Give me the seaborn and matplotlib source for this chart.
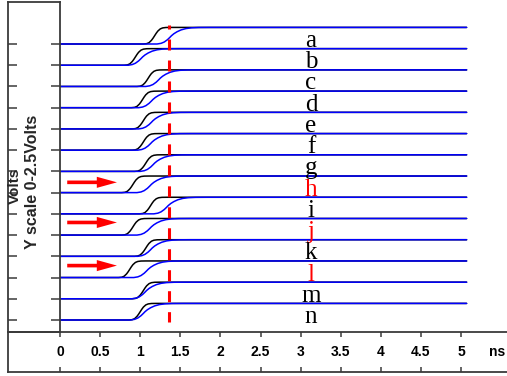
import numpy as np
import pandas as pd
import matplotlib
matplotlib.use("Agg")
import matplotlib.pyplot as plt
import seaborn as sns

# ---------------- data ----------------
labels = list("abcdefghijklmn")
label_colors = ["black", "black", "black", "black", "black", "black", "black",
                "red", "black", "red", "black", "red", "black", "black"]
# time (ns) of the 50% point of each trace's black and blue edge
black_mid = [1.18, 0.94, 1.10, 1.03, 1.04, 1.04, 1.07, 0.91, 1.13, 0.91, 1.07, 0.87, 1.04, 1.00]
blue_mid = [1.39, 1.03, 1.25, 1.16, 1.16, 1.15, 1.18, 1.14, 1.35, 1.14, 1.15, 1.10, 1.08, 1.06]
# edge shape: time offset from 50% point (ns) -> fraction of swing
black_off = [-0.14, -0.10, -0.07, -0.04, -0.02, 0.0, 0.02, 0.04, 0.07, 0.10, 0.14, 0.20]
black_frac = [0.0, 0.02, 0.08, 0.22, 0.35, 0.5, 0.65, 0.78, 0.91, 0.97, 0.995, 1.0]
blue_off = [-0.18, -0.13, -0.09, -0.05, -0.02, 0.0, 0.03, 0.07, 0.12, 0.18, 0.25, 0.34, 0.48]
blue_frac = [0.0, 0.04, 0.12, 0.26, 0.40, 0.5, 0.62, 0.74, 0.85, 0.93, 0.975, 0.995, 1.0]
swing = 2.5          # volts per trace
spacing = 3.2        # vertical offset between traces (V)
t_start, t_end = 0.0, 5.07
marker_time = 1.36
x_ticks = [0, 0.5, 1, 1.5, 2, 2.5, 3, 3.5, 4, 4.5, 5]
x_tick_labels = ["0", "0.5", "1", "1.5", "2", "2.5", "3", "3.5", "4", "4.5", "5"]
arrow_rows = ["h", "j", "l"]
arrow_level = [1.55, 1.9, 1.8]
arrow_from, arrow_to = 0.09, 0.71
label_time = 3.13

# ---------------- build long table ----------------
n = len(labels)
baselines = [(n - 1 - i) * spacing for i in range(n)]
rows = []
for i, lab in enumerate(labels):
    b = baselines[i]
    for kind, mids, offs, fracs in (("black", black_mid, black_off, black_frac),
                                    ("blue", blue_mid, blue_off, blue_frac)):
        rows.append((lab, kind, 0, t_start, b))
        for k, (o, f) in enumerate(zip(offs, fracs)):
            rows.append((lab, kind, k + 1, mids[i] + o, b + swing * f))
        rows.append((lab, kind, len(offs) + 1, t_end, b + swing))
df = pd.DataFrame(rows, columns=["trace", "kind", "order", "time", "volts"])

# ---------------- figure ----------------
sns.set_theme(style="white")
plt.rcParams["lines.scale_dashes"] = False
W, H = 507, 376
fig = plt.figure(figsize=(W / 100, H / 100), dpi=100)

def fr(x0, y0, x1, y1):
    return [x0 / W, 1 - y1 / H, (x1 - x0) / W, (y1 - y0) / H]

px_per_ns = 80.2
x_left_main = 60
xmax = (W - x_left_main) / px_per_ns
px_per_v = 21.23 / spacing
y_bot = baselines[-1] - (332 - 320) / px_per_v
y_top = baselines[0] + (44 - 2) / px_per_v

ax = fig.add_axes(fr(60, 2, W, 332))
ax.set_facecolor("none")
for kind, col in (("black", "black"), ("blue", "#0000ff")):
    sub = df[df["kind"] == kind]
    sns.lineplot(data=sub, x="time", y="volts", units="trace", estimator=None,
                 sort=False, color=col, lw=1.1, ax=ax, legend=False)
ax.set_xlim(0, xmax)
ax.set_ylim(y_bot, y_top)
for s in ax.spines.values():
    s.set_visible(False)
ax.set_xticks([]); ax.set_yticks([])
ax.set_xlabel(""); ax.set_ylabel("")

# red dashed marker
ax.plot([marker_time, marker_time], [baselines[0] + swing + 0.4, baselines[-1] - 0.3],
        color="#ff0000", lw=2.2, ls=(5.0, (7.9, 7.2)), solid_capstyle="butt")

# letters
for i, lab in enumerate(labels):
    ax.text(label_time, baselines[i] - 0.45, lab, ha="center", va="baseline",
            fontsize=18, family="Liberation Serif", color=label_colors[i])

# arrows
for r, lv in zip(arrow_rows, arrow_level):
    y = baselines[labels.index(r)] + lv
    ax.annotate("", xy=(arrow_to, y), xytext=(arrow_from, y),
                arrowprops=dict(arrowstyle="simple,head_length=1.45,head_width=0.8,tail_width=0.26",
                                mutation_scale=10, color="#ff0000", lw=0,
                                shrinkA=0, shrinkB=0))

spine_col = "#3a3a3a"
# left box
axb = fig.add_axes(fr(8, 2, 60, 332))
axb.set_facecolor("none")
axb.set_ylim(y_bot, y_top)
axb.set_xticks([])
axb.set_yticks(baselines)
axb.tick_params(axis="y", left=True, right=True, direction="in", length=6.5,
                width=1.1, color=spine_col, labelleft=False, labelright=False)
for s in axb.spines.values():
    s.set_visible(True); s.set_color(spine_col); s.set_linewidth(1.3)

# bottom axis box
axx = fig.add_axes(fr(8, 332, W + 2, 372))
axx.set_facecolor("none")
axx.set_xlim(-(60 - 8) / px_per_ns, (W + 2 - 60) / px_per_ns)
axx.set_ylim(0, 1)
axx.set_yticks([])
axx.set_xticks(x_ticks)
axx.tick_params(axis="x", top=True, bottom=True, direction="in", length=3.8,
                width=1.1, color=spine_col, labelbottom=False, labeltop=False)
for s in axx.spines.values():
    s.set_visible(True); s.set_color(spine_col); s.set_linewidth(1.3)
axx.spines["right"].set_visible(False)
for t, tl in zip(x_ticks, x_tick_labels):
    axx.text(t, 0.5, tl, ha="center", va="center", fontsize=10, fontweight="bold",
             family="Liberation Sans", color="black")
axx.text((497 - 60) / px_per_ns, 0.5, "ns", ha="center", va="center", fontsize=10,
         fontweight="bold", family="Liberation Sans", color="black")

fig.text(15 / W, 1 - 186 / H, "Volts", rotation=90, ha="center", va="center",
         fontsize=11, fontweight="bold", family="Liberation Sans")
fig.text(33 / W, 1 - 182 / H, "Y scale 0-2.5Volts", rotation=90, ha="center", va="center",
         fontsize=11.5, fontweight="bold", family="Liberation Sans")

fig.savefig("out.png", dpi=100)
